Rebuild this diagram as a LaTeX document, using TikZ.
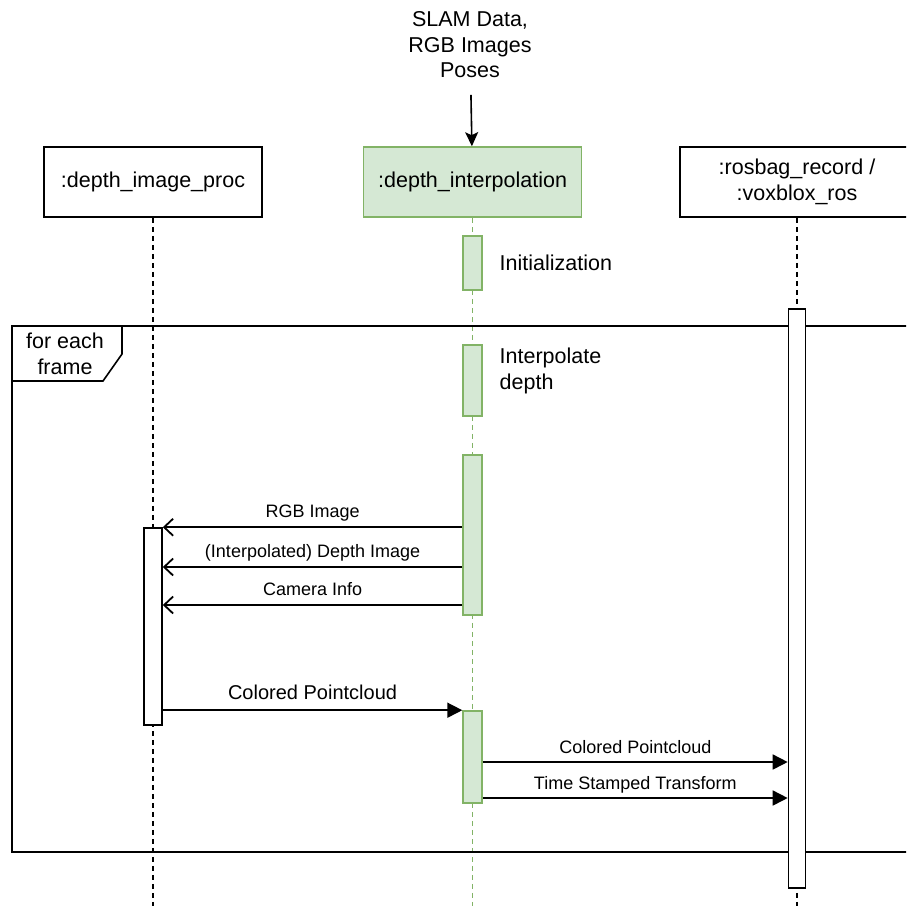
\documentclass[tikz,border=0pt]{standalone}
\usepackage{fontspec}
\setmainfont{Liberation Sans}
\usetikzlibrary{arrows.meta}
\usetikzlibrary{positioning}
\definecolor{lgrn}{HTML}{D5E8D4}
\definecolor{grn}{HTML}{82B366}

\begin{document}
\begin{tikzpicture}[x=1pt, y=-1pt, line width=1.6pt,
    head/.style={draw, minimum width=218pt, minimum height=70pt,
      font=\fontsize{21.5}{25.5}\selectfont, align=center},
    active/.style={draw, fill=white, minimum width=18pt, inner sep=0pt},
    busy/.style={active, draw=grn, fill=lgrn, minimum width=19pt},
    life/.style={dash pattern=on 5pt off 4pt},
    note/.style={font=\fontsize{21.5}{25.5}\selectfont, align=left, inner sep=0pt},
    lbl/.style={anchor=base, yshift=10pt, font=\fontsize{18}{21}\selectfont},
    reply/.style={-{Straight Barb[length=9pt,width=17pt,line width=1.8pt]}},
    call/.style={-{Triangle[length=15pt,width=15pt]}},
    feed/.style={-{Stealth[length=14pt,width=13pt,inset=3pt]}},
  ]

    \clip (0,0) rectangle (906,906);

    % Nodes

    \node[note, align=center]           (src)  at (470,45)  {SLAM Data,\\RGB Images\\Poses};
    \node[head]                         (dip)  at (153,182) {:depth\_image\_proc};
    \node[head, draw=grn, fill=lgrn, right=100pt of dip] (dint) {:depth\_interpolation};
    \node[head, minimum width=234pt]    (ros)  at (797,182) {:rosbag\_record /\\:voxblox\_ros};

    \draw[feed, shorten <=16pt] (src) -- (dint);

    % Lifelines
    \coordinate (floor) at (0,912);
    \draw[life]      (dip)  -- (dip |- floor);
    \draw[life, grn] (dint) -- (dint |- floor);
    \draw[life]      (ros)  -- (ros |- floor);

    % Loop frame
    \draw (12,326) rectangle (930,852);
    \draw (12,326) -- (122,326) -- (122,354) -- (103,381) -- (12,381);
    \node[note, align=center] (loop) at (65,354) {for each\\frame};

    % Activations
    \node[busy, minimum height=54pt]  (a1) at (dint |- 0,263)   {};
    \node[busy, minimum height=71pt]  (a2) at (dint |- 0,380.5) {};
    \node[busy, minimum height=160pt] (a3) at (dint |- 0,535)   {};
    \node[busy, minimum height=92pt]  (a4) at (dint |- 0,757)   {};
    \node[active, minimum height=197pt] (b1) at (dip |- 0,626.5) {};
    \node[active, minimum width=17pt, minimum height=579pt] (r1) at (ros |- 0,598.5) {};

    \node[note, right=16pt of a1]               (init)   {Initialization};
    \node[note, right=16pt of a2, yshift=9.5pt] (interp) {Interpolate\\depth};

    % Messages
    \coordinate (y2) at (0,567);
    \coordinate (y3) at (0,605);
    \coordinate (y5) at (0,762);
    \coordinate (y6) at (0,798);

    \draw[reply] (a3.west |- b1.north) -- node[lbl] {RGB Image} (b1.north east);
    \draw[reply] (a3.west |- y2) -- node[lbl] {(Interpolated) Depth Image} (b1.east |- y2);
    \draw[reply] (a3.west |- y3) -- node[lbl] {Camera Info} (b1.east |- y3);
    \draw[call] (b1.east |- a4.north) -- node[lbl, yshift=1pt, font=\fontsize{20}{24}\selectfont] {Colored Pointcloud} (a4.north west);
    \draw[call] (a4.east |- y5) -- node[lbl, yshift=-1pt] {Colored Pointcloud} (r1.west |- y5);
    \draw[call] (a4.east |- y6) -- node[lbl, yshift=-1pt] {Time Stamped Transform} (r1.west |- y6);

\end{tikzpicture}
\end{document}
